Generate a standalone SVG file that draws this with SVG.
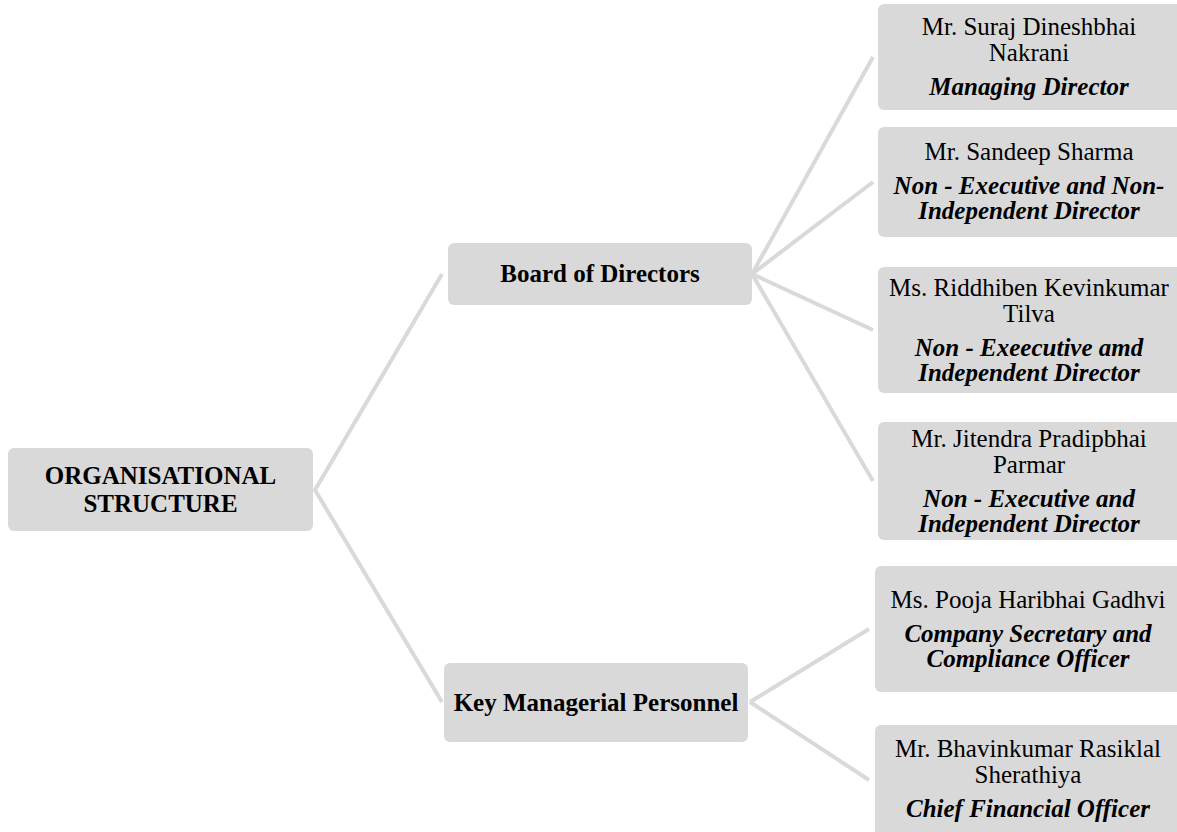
<svg xmlns="http://www.w3.org/2000/svg" width="1177" height="832" viewBox="0 0 1177 832">
<style>
.box{fill:#d9d9d9}
.conn{stroke:#d9d9d9;stroke-width:4;fill:none;stroke-linecap:butt}
text{font-family:"Liberation Serif","Times New Roman",serif;font-size:25px;fill:#000;text-anchor:middle}
.b{font-weight:bold}
.r{font-weight:bold;font-style:italic}
</style>
<rect width="1177" height="832" fill="#ffffff"/>
<g id="connectors">
<polyline class="conn" points="442,274 315,490 442,702"/>
<line class="conn" x1="752" y1="274" x2="873" y2="57"/>
<line class="conn" x1="752" y1="274" x2="873" y2="182"/>
<line class="conn" x1="752" y1="274" x2="873" y2="330"/>
<line class="conn" x1="752" y1="274" x2="873" y2="481"/>
<line class="conn" x1="750" y1="702" x2="869" y2="629"/>
<line class="conn" x1="750" y1="702" x2="869" y2="780"/>
</g>
<g id="root">
<rect class="box" x="8" y="448" width="305" height="83" rx="6"/>
<text class="b" x="160.5" y="484">ORGANISATIONAL</text>
<text class="b" x="160.5" y="512">STRUCTURE</text>
</g>
<g id="board">
<rect class="box" x="448" y="243" width="304" height="62" rx="6"/>
<text class="b" x="600" y="282">Board of Directors</text>
</g>
<g id="kmp">
<rect class="box" x="444" y="663" width="304" height="79" rx="6"/>
<text class="b" x="596" y="711">Key Managerial Personnel</text>
</g>
<g id="md">
<rect class="box" x="878" y="4" width="305" height="106" rx="6"/>
<text x="1029" y="35">Mr. Suraj Dineshbhai</text>
<text x="1029" y="61">Nakrani</text>
<text class="r" x="1029" y="95">Managing Director</text>
</g>
<g id="ned">
<rect class="box" x="878" y="127" width="305" height="110" rx="6"/>
<text x="1029" y="160">Mr. Sandeep Sharma</text>
<text class="r" x="1029" y="194">Non - Executive and Non-</text>
<text class="r" x="1029" y="219">Independent Director</text>
</g>
<g id="id1">
<rect class="box" x="878" y="267" width="305" height="126" rx="6"/>
<text x="1029" y="296">Ms. Riddhiben Kevinkumar</text>
<text x="1029" y="322">Tilva</text>
<text class="r" x="1029" y="356">Non - Exeecutive amd</text>
<text class="r" x="1029" y="381">Independent Director</text>
</g>
<g id="id2">
<rect class="box" x="878" y="422" width="305" height="118" rx="6"/>
<text x="1029" y="447">Mr. Jitendra Pradipbhai</text>
<text x="1029" y="473">Parmar</text>
<text class="r" x="1029" y="507">Non - Executive and</text>
<text class="r" x="1029" y="532">Independent Director</text>
</g>
<g id="cs">
<rect class="box" x="875" y="566" width="308" height="126" rx="6"/>
<text x="1028" y="608">Ms. Pooja Haribhai Gadhvi</text>
<text class="r" x="1028" y="642">Company Secretary and</text>
<text class="r" x="1028" y="667">Compliance Officer</text>
</g>
<g id="cfo">
<rect class="box" x="875" y="725" width="308" height="115" rx="6"/>
<text x="1028" y="757">Mr. Bhavinkumar Rasiklal</text>
<text x="1028" y="783">Sherathiya</text>
<text class="r" x="1028" y="817">Chief Financial Officer</text>
</g>
</svg>
